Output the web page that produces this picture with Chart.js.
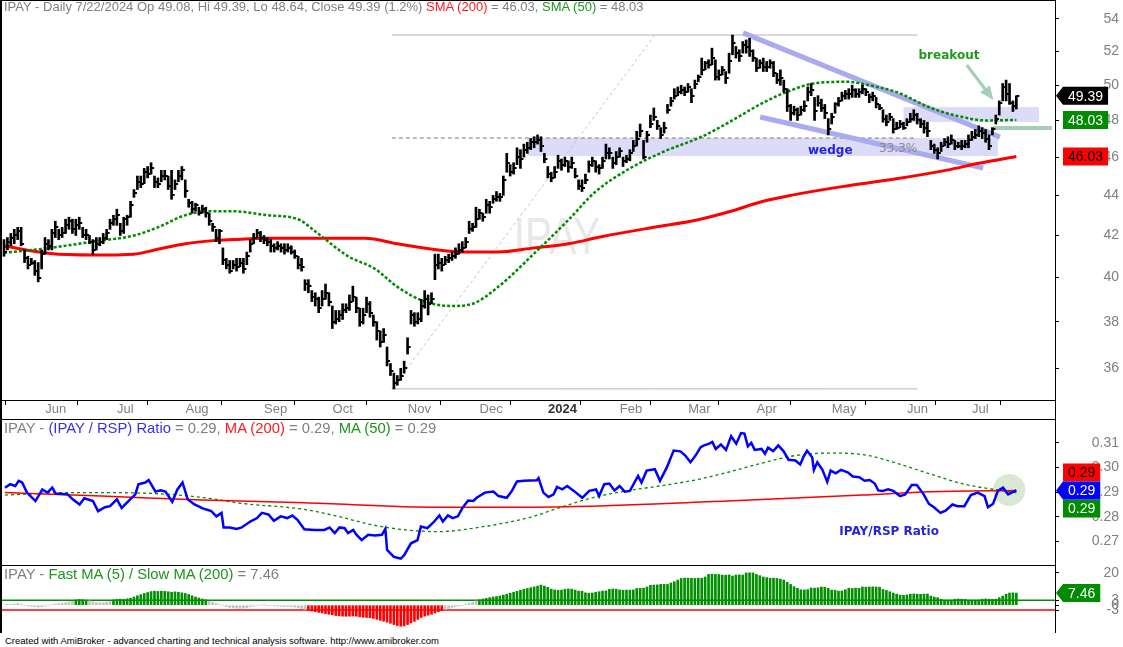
<!DOCTYPE html>
<html lang="en">
<head>
<meta charset="UTF-8">
<title>IPAY daily</title>
<script src="https://cdn.jsdelivr.net/npm/chart.js@4.4.1/dist/chart.umd.min.js"></script>
<style>
  body { margin: 0; background: #fff; }
  #wrap { position: relative; width: 1123px; height: 647px; overflow: hidden; background: #fff; font-family: "Liberation Sans", Arial, sans-serif; }
  #wrap canvas { position: absolute; left: 0; }
  .ln { position: absolute; background: #000; }
  .ttl { position: absolute; left: 4px; font-size: 13px; line-height: 15px; color: #808080; white-space: nowrap; }
  .big { font-size: 14.8px; line-height: 17px; }
  .red { color: #ff1a1a; }
  .grn { color: #1a961a; }
  .blu { color: #3a2ee6; }
  #foot { position: absolute; left: 5px; top: 635px; font-size: 9.5px; line-height: 12px; color: #000; white-space: nowrap; }
</style>
</head>
<body>
<div id="wrap">
  <canvas id="pricePane" width="1123" height="420" style="top:0"></canvas>
  <canvas id="ratioPane" width="1123" height="146" style="top:419px"></canvas>
  <canvas id="histPane" width="1123" height="68" style="top:565px"></canvas>
  <div class="ln" style="left:0;top:0;width:2px;height:633px"></div>
  <div class="ln" style="left:0;top:0;width:1056px;height:1px"></div>
  <div class="ln" style="left:0;top:419px;width:1056px;height:1px"></div>
  <div class="ln" style="left:0;top:565px;width:1056px;height:1px"></div>
  <div class="ln" style="left:1055px;top:0;width:1px;height:633px"></div>
  <div class="ttl" style="top:-1px">IPAY - Daily 7/22/2024 Op 49.08, Hi 49.39, Lo 48.64, Close 49.39 (1.2%) <span class="red">SMA (200)</span> = 46.03, <span class="grn">SMA (50)</span> = 48.03</div>
  <div class="ttl big" style="top:420px">IPAY - <span class="blu">(IPAY / RSP) Ratio</span> = 0.29, <span class="red">MA (200)</span> = 0.29, <span class="grn">MA (50)</span> = 0.29</div>
  <div class="ttl big" style="top:566px">IPAY - <span class="grn">Fast MA (5) / Slow MA (200)</span> = 7.46</div>
  <div id="foot">Created with AmiBroker - advanced charting and technical analysis software. http://www.amibroker.com</div>
</div>
<script>
// month ticks (bar index of first trading day) and their labels
var monthIdx = [11, 32, 52, 75, 95, 117, 138, 158, 179, 199, 219, 241, 263, 282];
var monthNames = ['Jun', 'Jul', 'Aug', 'Sep', 'Oct', 'Nov', 'Dec', '2024', 'Feb', 'Mar', 'Apr', 'May', 'Jun', 'Jul'];
var priceTicks = [36, 38, 40, 42, 44, 46, 48, 50, 52, 54];
var ratioTicks = [0.27, 0.28, 0.29, 0.30, 0.31];
var histTicks = [20, 3, 0, -3];

// daily bars, May 2023 .. 7/22/2024
var closes = [
  41.2,41.7,41.9,42.0,42.2,41.6,40.9,40.6,40.7,40.3,
  40.0,41.1,41.6,41.5,42.1,42.4,42.0,42.1,42.5,42.7,
  42.3,42.5,42.6,42.0,42.0,41.7,41.3,41.6,41.7,41.9,
  42.1,42.6,42.8,43.0,42.2,42.8,42.9,43.5,44.1,44.7,
  44.6,45.2,45.1,45.4,44.7,44.6,45.0,45.0,44.5,44.0,
  44.6,45.0,45.3,44.2,43.6,43.3,43.5,43.1,43.3,43.1,
  42.7,42.4,41.9,42.2,40.8,40.6,40.3,40.6,40.5,40.7,
  40.4,41.0,41.6,41.9,42.1,41.9,41.8,41.7,41.5,41.4,
  41.5,41.4,41.3,41.4,41.2,41.0,40.6,40.5,39.7,39.6,
  39.1,39.0,38.6,39.0,39.3,38.9,38.0,38.1,38.3,38.5,
  38.6,38.9,39.1,38.6,38.0,38.3,38.8,38.4,38.0,37.6,
  37.1,37.4,36.3,35.9,35.4,35.5,35.7,36.0,36.9,38.3,
  38.0,38.1,38.7,39.0,38.8,39.0,40.6,40.7,40.6,40.8,
  40.9,41.0,41.1,41.3,41.4,41.7,42.3,42.4,42.8,43.1,
  42.9,43.5,43.4,43.8,43.9,43.9,44.8,45.7,45.2,45.4,
  46.0,45.9,46.4,46.5,46.8,46.8,46.9,46.6,45.9,45.1,
  44.9,45.2,45.8,45.6,45.8,45.5,45.7,45.0,44.5,44.4,
  44.8,45.6,45.8,45.5,45.4,45.8,46.2,46.2,45.7,46.0,
  46.3,45.8,45.9,46.2,46.6,47.0,47.4,46.0,47.2,47.8,
  48.2,47.7,47.2,47.6,48.6,49.1,49.4,49.6,49.7,49.6,
  49.9,49.4,50.1,50.5,50.9,51.3,51.2,51.6,50.5,50.6,
  50.9,50.4,51.4,52.5,51.9,51.7,52.4,52.3,52.0,51.6,
  51.0,51.3,51.1,51.1,51.3,50.7,50.3,50.4,49.8,48.8,
  48.4,48.6,48.3,48.6,48.8,49.6,49.7,48.5,49.0,48.7,
  48.4,47.5,48.2,48.9,49.1,49.4,49.5,49.5,49.7,49.5,
  49.6,49.8,49.6,49.3,49.4,48.9,48.7,48.1,47.9,48.2,
  47.5,47.6,47.8,47.6,47.9,48.1,48.3,48.0,47.8,47.6,
  47.4,46.6,46.4,46.2,46.6,46.8,46.7,46.9,46.6,46.6,
  46.6,46.7,46.9,47.1,47.2,47.4,47.3,47.0,46.6,47.5,
  48.1,49.0,49.9,49.5,49.0,48.8,49.39
];
var highs = [
  41.8,41.9,42.1,42.3,42.4,42.4,41.3,41.0,40.9,40.8,
  40.7,41.3,41.9,41.8,42.3,42.7,42.3,42.4,42.8,42.9,
  42.8,42.8,42.9,42.4,42.3,42.0,41.8,41.9,41.9,42.1,
  42.3,42.8,43.0,43.3,42.6,42.9,43.0,43.7,44.3,45.0,
  45.0,45.4,45.5,45.7,45.0,44.9,45.3,45.3,45.0,45.3,
  44.8,45.3,45.5,44.8,43.8,43.7,43.6,43.4,43.5,43.4,
  43.1,42.6,42.3,42.3,41.4,40.9,40.8,40.8,40.9,40.9,
  40.9,41.2,41.8,42.1,42.3,42.2,42.0,41.9,41.8,41.6,
  41.7,41.6,41.6,41.6,41.5,41.3,41.0,40.9,39.9,39.9,
  39.4,39.3,39.1,39.4,39.7,39.3,38.7,38.5,38.5,38.8,
  38.8,39.2,39.6,39.1,38.6,38.6,39.1,38.9,38.3,38.0,
  37.6,37.7,36.9,36.2,35.8,35.7,36.0,36.3,37.3,38.5,
  38.4,38.4,39.0,39.4,39.2,39.3,41.1,41.1,40.9,41.0,
  41.1,41.2,41.4,41.6,41.7,41.9,42.7,42.6,43.4,43.3,
  43.1,43.8,43.7,44.0,44.2,44.1,45.0,46.2,45.6,45.7,
  46.5,46.4,46.7,46.8,47.0,47.1,47.2,47.1,46.2,45.5,
  45.2,45.5,46.1,45.9,46.0,45.8,46.0,45.4,44.8,44.8,
  45.1,45.8,46.0,45.8,45.6,46.0,46.7,46.5,46.0,46.3,
  46.5,46.0,46.1,46.4,46.9,47.4,47.8,46.9,47.4,48.3,
  48.7,48.0,47.6,47.9,48.9,49.3,49.8,49.9,50.0,49.9,
  50.1,49.8,50.3,50.6,51.6,51.4,51.5,52.2,51.5,50.9,
  51.1,50.8,51.9,53.0,52.3,52.1,52.6,52.7,52.8,52.1,
  51.6,51.5,51.6,51.4,51.5,51.4,50.7,50.9,50.3,49.8,
  48.9,48.8,48.7,48.8,49.1,49.9,50.1,49.3,49.4,49.2,
  48.9,48.1,48.4,49.0,49.3,49.6,49.7,49.8,50.0,49.8,
  49.8,50.0,49.8,49.5,49.6,49.3,48.9,48.6,48.3,48.4,
  48.1,47.9,48.0,47.9,48.1,48.4,48.6,48.4,48.1,48.0,
  47.9,46.9,46.7,46.5,46.8,47.0,47.1,47.2,46.9,46.8,
  46.9,46.9,47.2,47.4,47.5,47.7,47.6,47.5,47.2,47.6,
  48.3,49.1,50.1,50.3,50.1,49.1,49.39
];
var lows = [
  41.0,41.3,41.5,41.6,41.8,41.5,40.7,40.4,40.6,40.1,
  39.8,40.4,41.1,41.3,41.3,41.9,41.8,41.9,42.1,42.3,
  42.1,42.0,42.3,41.9,41.8,41.6,41.1,41.3,41.5,41.6,
  41.8,42.3,42.5,42.5,42.0,42.1,42.5,42.9,43.9,44.3,
  44.4,44.6,44.9,45.1,44.4,44.4,44.7,44.8,44.3,43.8,
  44.3,44.7,44.8,43.9,43.4,43.1,43.2,43.0,43.1,42.9,
  42.5,42.2,41.7,41.6,40.6,40.4,40.2,40.4,40.3,40.5,
  40.2,40.6,41.2,41.6,41.9,41.7,41.6,41.5,41.2,41.2,
  41.3,41.2,41.1,41.2,41.1,40.9,40.4,40.3,39.4,39.3,
  38.9,38.7,38.4,38.7,39.0,38.7,37.7,37.9,38.0,38.1,
  38.4,38.5,38.9,38.4,37.8,37.9,38.4,38.2,37.8,37.2,
  36.9,37.1,36.1,35.7,35.15,35.3,35.5,35.8,36.6,37.9,
  37.8,37.9,38.0,38.6,38.3,38.8,39.9,40.4,40.3,40.6,
  40.7,40.8,40.9,41.1,41.2,41.4,42.1,42.2,42.4,42.8,
  42.7,43.1,43.1,43.6,43.7,43.7,44.0,45.2,45.0,45.1,
  45.6,45.4,46.0,46.2,46.4,46.5,46.7,46.3,45.7,44.9,
  44.7,44.9,45.4,45.3,45.5,45.2,45.4,44.9,44.3,44.2,
  44.6,45.2,45.5,45.2,45.1,45.4,45.9,45.9,45.4,45.6,
  46.0,45.5,45.7,45.8,46.3,46.6,47.1,45.9,46.8,47.6,
  48.0,47.5,47.0,47.3,48.4,48.8,49.2,49.4,49.5,49.4,
  49.6,49.0,49.8,50.2,50.6,50.9,51.0,51.2,50.3,50.3,
  50.6,50.1,50.7,51.8,51.6,51.4,51.9,51.9,51.7,51.4,
  50.8,51.0,50.8,50.8,51.0,50.5,50.1,50.0,49.6,48.5,
  48.0,48.3,48.0,48.3,48.5,49.1,49.4,48.0,48.8,48.5,
  48.1,47.2,47.8,48.4,48.8,49.1,49.2,49.2,49.3,49.3,
  49.3,49.5,49.4,49.0,49.1,48.7,48.6,47.9,47.7,48.0,
  47.3,47.5,47.6,47.5,47.7,47.9,48.0,47.8,47.6,47.3,
  47.1,46.4,46.2,45.9,46.3,46.6,46.5,46.7,46.4,46.5,
  46.4,46.5,46.5,46.9,47.0,47.1,47.0,46.8,46.4,47.2,
  47.8,48.3,49.1,49.1,48.9,48.5,48.64
];

// moving averages: [bar index, value]
var sma50 = [
  [0,41.16],[13.5,41.4],[26,41.7],[38,42.0],[45,42.4],[53,43.0],[60,43.2],[67,43.2],[77,43.0],[86,42.8],
  [91,42.2],[100.6,41.0],[108.5,40.4],[115,39.57],[123,38.9],[131,38.7],[137,38.8],[144.5,39.57],[155,41.13],[165,42.76],
  [173,44.2],[183,45.4],[193,46.3],[204,47.1],[212,47.9],[222,49.0],[230,49.7],[236.6,50.1],[246.5,50.2],[253,50.0],
  [261,49.6],[271,48.7],[280,48.2],[287,48.0],[296,48.03]
];
var sma200 = [
  [0,41.49],[13.5,41.13],[26,41.06],[38,41.1],[44,41.3],[53,41.6],[61,41.75],[67,41.8],[77,41.86],[105.6,41.86],
  [115,41.6],[127,41.3],[135,41.2],[144.5,41.2],[155,41.4],[165,41.6],[175,41.95],[190,42.4],[202.6,42.76],[212,43.17],
  [222,43.7],[230,44.0],[245,44.45],[260,44.83],[275.7,45.31],[285,45.67],[296,46.03]
];

// IPAY / RSP ratio
var ratio = [
  [0.3,.2918],[1.8,.2932],[3.3,.2925],[4.3,.2946],[5.3,.2939],[6.7,.2898],[9.2,.2864],[11.2,.2911],[12.7,.2898],[14.1,.2918],
  [15.1,.2894],[18.6,.2891],[20.1,.2871],[22.1,.2850],[23.5,.2875],[26,.2864],[27.5,.2823],[29.5,.2839],[31,.2843],[33,.2871],
  [34.4,.2836],[36.9,.2871],[38.4,.2891],[39.3,.2932],[41.3,.2939],[42.3,.2949],[44.3,.2902],[45.8,.2907],[47.2,.2902],[49.2,.2861],
  [50.7,.2911],[52.2,.2939],[53.7,.2871],[55.7,.2850],[58.1,.2834],[60.6,.2823],[62.1,.2802],[63.6,.2816],[64.2,.2757],[66,.2757],
  [68,.2751],[69.5,.2757],[72,.2781],[74,.2795],[75.4,.2816],[77.4,.2809],[78.9,.2784],[80.9,.2802],[82.8,.2795],[84.3,.2805],
  [85.8,.2788],[87.8,.2750],[90.7,.2747],[93.7,.2747],[95.2,.2757],[96.7,.2734],[98.1,.2757],[99.6,.2754],[100.6,.2734],[102.1,.2747],
  [103.1,.2727],[104.6,.2706],[106.5,.2727],[108.5,.2724],[110.5,.2727],[111.5,.2751],[112,.2666],[114,.2638],[116,.2631],[117,.2645],
  [119,.2693],[120.9,.2706],[121.9,.2761],[123.8,.2754],[125.8,.2781],[127.3,.2806],[128.3,.2781],[129.8,.2806],[131.2,.2795],[132.7,.2802],
  [134.2,.2839],[135.7,.2866],[137.2,.2864],[138.2,.2877],[140.6,.2898],[143.1,.2902],[144.6,.2884],[147,.2877],[148.5,.2905],[150,.2943],
  [152,.2946],[155.8,.2948],[156.3,.2957],[157.7,.2898],[159.2,.2880],[160.7,.2891],[161.7,.2921],[163.2,.2911],[164.7,.2925],[166.6,.2905],
  [169.1,.2877],[171.1,.2905],[173.1,.2911],[174,.2884],[175.5,.2932],[177,.2935],[178.5,.2907],[180,.2925],[181.5,.2902],[183,.2905],
  [185.4,.2966],[186.4,.2939],[187.9,.2987],[190.3,.2993],[191.8,.2946],[193.8,.3000],[195.8,.3068],[197.8,.3065],[199.2,.3048],[200.7,.3021],
  [202.2,.3048],[203.7,.3082],[204.7,.3089],[206.2,.3096],[207.1,.3103],[208.1,.3075],[209.6,.3093],[211.1,.3071],[212.6,.3126],[214.1,.3096],
  [215.5,.3139],[216.5,.3137],[217.5,.3085],[218.5,.3099],[219.5,.3071],[221.5,.3075],[222.5,.3055],[223.4,.3080],[224.9,.3066],[226.4,.3089],
  [227.9,.3066],[229.4,.3031],[231.4,.3028],[232.8,.3012],[233.8,.3044],[234.8,.3068],[236.3,.3041],[236.8,.2990],[237.8,.3021],[239.3,.2990],
  [240.7,.2942],[241.7,.2987],[243.2,.2976],[244.7,.2990],[246.7,.2980],[248.2,.2963],[250.1,.2960],[251.6,.2946],[253.1,.2949],[254.6,.2935],
  [255.6,.2907],[257,.2905],[258.5,.2911],[260,.2905],[262,.2884],[263.5,.2891],[265.4,.2929],[266.9,.2929],[268.9,.2891],[270.4,.2853],
  [271.9,.2839],[273.8,.2816],[275.3,.2825],[277.3,.2850],[278.8,.2843],[280.8,.2843],[282.7,.2888],[284.7,.2898],[286.7,.2884],[287.7,.2839],
  [289.2,.2853],[290.6,.2905],[292.1,.2918],[293.6,.2891],[294.6,.2898],[296,.2907]
];
var ratioMa200 = [
  [0.3,.2898],[28.5,.2884],[58,.2868],[87.8,.2857],[127.3,.2839],[153.8,.2839],[211.6,.2864],[251,.2888],[270.9,.2902],[296,.2907]
];
var ratioMa50 = [
  [0.3,.2888],[18.6,.2898],[28.5,.2898],[48.2,.2891],[62,.2871],[68,.2857],[87.8,.2830],[97.6,.2802],[107.5,.2768],[117.4,.2747],
  [127.3,.2740],[137.2,.2754],[153.8,.2798],[162.2,.2836],[172,.2877],[182,.2905],[191.8,.2925],[201.7,.2948],[211.6,.2980],[221.5,.3017],
  [231.4,.3048],[241.2,.3058],[251.1,.3052],[261,.3017],[270.9,.2973],[280.8,.2932],[296,.2898]
];

// fast MA(5) vs slow MA(200), percent
var hist = [
  0.3,0.5,0.6,0.8,1.0,0.6,-0.2,-0.6,-0.8,-1.0,
  -1.2,-0.9,-0.6,-0.3,0.2,0.6,0.9,1.2,1.6,2.0,
  2.3,3.2,3.5,3.4,3.1,2.6,2.0,1.6,1.5,1.6,
  1.9,2.4,3.2,3.6,3.7,3.6,3.9,4.3,5.0,5.8,
  6.5,7.2,7.8,8.4,8.6,8.5,8.6,8.5,8.3,8.0,
  8.2,8.0,7.6,7.2,6.6,5.8,5.0,4.4,3.8,3.3,
  2.4,1.8,1.0,0.4,-0.3,-0.9,-1.4,-1.6,-1.8,-1.9,
  -1.8,-1.5,-1.0,-0.6,-0.3,0.0,0.1,-0.1,-0.3,-0.5,
  -0.6,-0.7,-0.8,-0.9,-1.0,-1.2,-1.5,-2.0,-2.6,-3.2,
  -3.6,-4.0,-4.5,-4.8,-5.2,-5.6,-6.0,-6.4,-6.6,-6.8,
  -6.9,-6.8,-6.7,-6.8,-7.2,-7.5,-7.6,-7.8,-8.2,-8.8,
  -9.4,-9.9,-10.5,-11.2,-12.0,-12.6,-13.0,-12.8,-12.0,-11.0,
  -10.0,-8.8,-7.6,-6.8,-6.2,-5.6,-4.8,-4.0,-3.4,-2.6,
  -2.0,-1.5,-1.0,-0.6,-0.2,0.5,1.2,1.9,2.6,3.3,
  3.8,4.2,4.6,5.0,5.3,5.7,6.2,6.8,7.4,8.0,
  8.6,9.2,9.8,10.3,10.8,11.3,11.8,12.4,11.8,11.0,
  9.9,9.4,9.2,9.3,9.8,10.0,9.9,9.3,8.7,8.6,
  7.6,7.4,7.5,8.0,8.3,8.7,8.8,9.8,10.0,9.9,
  9.4,9.2,9.3,9.3,9.4,10.3,10.4,10.5,11.2,12.3,
  12.4,12.5,12.8,12.9,12.8,13.7,14.5,15.5,16.5,16.7,
  16.6,16.6,16.5,16.7,16.6,17.4,19.0,19.1,19.0,18.9,
  18.6,18.5,18.7,18.0,18.6,18.7,18.6,19.9,20.0,19.9,
  19.0,18.2,17.4,17.0,16.6,16.7,16.5,16.1,15.5,14.1,
  12.8,11.4,10.4,9.5,9.4,9.6,10.6,10.5,10.7,11.2,
  11.1,10.4,9.3,9.2,8.7,8.8,9.5,10.4,10.3,10.5,
  10.4,11.2,11.1,11.2,11.3,11.2,11.1,9.7,9.1,8.3,
  7.5,6.8,6.2,6.1,6.3,6.8,6.9,6.8,6.7,6.8,
  6.9,5.6,5.0,4.6,3.7,3.1,3.2,3.1,3.7,3.8,
  3.7,3.6,3.1,3.2,3.1,3.2,3.7,3.8,3.7,3.6,
  3.7,4.6,5.6,6.8,7.5,7.6,7.46
];
var histBands = [3, -3];

// drawings on the price pane: [bar index, price]
var zones = [[153, 290.6, 46.06, 47.03], [263, 302.6, 47.92, 48.75]];
var fibSpan = [113.4, 267];
var fibLevels = [35.15, 47.03, 53.0];
var trendLine = [[113.4, 35.15], [190.3, 53.0]];
var wedgeTop = [[216.1, 53.13], [291.2, 47.08]];
var wedgeBottom = [[221.1, 48.19], [286.3, 45.42]];
var arrowLine = [[281.5, 51.19], [289.3, 49.15]];
var breakoutLine = [[289.2, 47.58], [306.4, 47.58]];
var watermarkAt = [161.7, 41.8];
var notes = [['breakout', 276.3, 51.73], ['wedge', 241.6, 46.33], ['33.3%', 267, 46.44]];
var ratioMark = [293.9, 0.2909];
var ratioNote = ['IPAY/RSP Ratio', 258.8, 0.2738];

Chart.defaults.font.family = '"Liberation Sans", Arial, sans-serif';
Chart.defaults.animation = false;
Chart.defaults.plugins.legend.display = false;
Chart.defaults.plugins.tooltip.enabled = false;

var xMin = -1.17, xMax = 307.3;
var GREEN = '#008c00';

function pts(arr) {
  return arr.map(function(p) { return { x: p[0], y: p[1] }; });
}

function rightAxis(extra) {
  var axis = {
    position: 'right',
    grid: { drawOnChartArea: false, drawTicks: true, tickLength: 4, color: '#000' },
    border: { display: true, color: '#000' },
    ticks: { color: '#808080', font: { size: 14 }, crossAlign: 'far', autoSkip: false },
    afterFit: function(s) { s.width = 64; s.paddingTop = 0; s.paddingBottom = 0; }
  };
  return Object.assign(axis, extra);
}

function valueBox(ctx, y, text, bg, fg, arrow) {
  ctx.save();
  ctx.font = '14px "Liberation Sans", Arial, sans-serif';
  var w = ctx.measureText(text).width + 10;
  var x0 = 1063, h = 18;
  ctx.fillStyle = bg;
  ctx.beginPath();
  if (arrow) {
    ctx.moveTo(1056, y);
    ctx.lineTo(x0, y - h / 2);
    ctx.lineTo(x0 + w, y - h / 2);
    ctx.lineTo(x0 + w, y + h / 2);
    ctx.lineTo(x0, y + h / 2);
    ctx.closePath();
  } else {
    ctx.rect(x0, y - h / 2, w, h);
  }
  ctx.fill();
  ctx.fillStyle = fg;
  ctx.textAlign = 'center';
  ctx.textBaseline = 'middle';
  ctx.fillText(text, x0 + w / 2, y + 1);
  ctx.restore();
}

function segment(ctx, X, Y, a, b) {
  ctx.beginPath();
  ctx.moveTo(X(a[0]), Y(a[1]));
  ctx.lineTo(X(b[0]), Y(b[1]));
  ctx.stroke();
}

// close tick drawn to the right of each bar
var tickImg = document.createElement('canvas');
tickImg.width = 8; tickImg.height = 2;
var tg = tickImg.getContext('2d');
tg.fillStyle = '#000';
tg.fillRect(4, 0, 3, 2);

var priceDecor = {
  id: 'priceDecor',
  beforeDatasetsDraw: function(chart) {
    var ctx = chart.ctx, a = chart.chartArea;
    var X = function(v) { return chart.scales.x.getPixelForValue(v); };
    var Y = function(v) { return chart.scales.y.getPixelForValue(v); };
    ctx.save();
    ctx.beginPath(); ctx.rect(a.left, a.top, a.right - a.left, a.bottom - a.top); ctx.clip();

    // watermark
    ctx.save();
    ctx.translate(X(watermarkAt[0]), Y(watermarkAt[1]));
    ctx.scale(0.78, 1);
    ctx.font = '52px "Liberation Sans", Arial, sans-serif';
    ctx.fillStyle = '#e8e8e8';
    ctx.textAlign = 'center'; ctx.textBaseline = 'middle';
    ctx.fillText('IPAY', 0, 0);
    ctx.restore();

    ctx.fillStyle = '#dcdcf8';
    zones.forEach(function(z) {
      ctx.fillRect(X(z[0]), Y(z[3]), X(z[1]) - X(z[0]), Y(z[2]) - Y(z[3]));
    });

    ctx.lineWidth = 1;
    ctx.strokeStyle = '#b4b4b4';
    segment(ctx, X, Y, [fibSpan[0], fibLevels[0]], [fibSpan[1], fibLevels[0]]);
    segment(ctx, X, Y, [fibSpan[0], fibLevels[2]], [fibSpan[1], fibLevels[2]]);
    ctx.setLineDash([4, 3]);
    ctx.strokeStyle = '#7a7a7a';
    segment(ctx, X, Y, [fibSpan[0], fibLevels[1]], [fibSpan[1], fibLevels[1]]);
    ctx.setLineDash([3, 3]);
    ctx.strokeStyle = '#c4c4c4';
    segment(ctx, X, Y, trendLine[0], trendLine[1]);
    ctx.setLineDash([]);

    ctx.strokeStyle = '#aaaaee';
    ctx.lineWidth = 5;
    segment(ctx, X, Y, wedgeTop[0], wedgeTop[1]);
    segment(ctx, X, Y, wedgeBottom[0], wedgeBottom[1]);

    ctx.strokeStyle = '#a3cfb4';
    ctx.fillStyle = '#a3cfb4';
    ctx.lineWidth = 4;
    segment(ctx, X, Y, breakoutLine[0], breakoutLine[1]);
    var x1 = X(arrowLine[0][0]), y1 = Y(arrowLine[0][1]);
    var x2 = X(arrowLine[1][0]), y2 = Y(arrowLine[1][1]);
    var ang = Math.atan2(y2 - y1, x2 - x1);
    ctx.lineWidth = 3;
    ctx.beginPath();
    ctx.moveTo(x1, y1);
    ctx.lineTo(x2 - 12 * Math.cos(ang), y2 - 12 * Math.sin(ang));
    ctx.stroke();
    ctx.beginPath();
    ctx.moveTo(x2, y2);
    ctx.lineTo(x2 - 14 * Math.cos(ang) + 6 * Math.sin(ang), y2 - 14 * Math.sin(ang) - 6 * Math.cos(ang));
    ctx.lineTo(x2 - 14 * Math.cos(ang) - 6 * Math.sin(ang), y2 - 14 * Math.sin(ang) + 6 * Math.cos(ang));
    ctx.closePath();
    ctx.fill();
    ctx.restore();
  },
  afterDatasetsDraw: function(chart) {
    var ctx = chart.ctx;
    var X = function(v) { return chart.scales.x.getPixelForValue(v); };
    var Y = function(v) { return chart.scales.y.getPixelForValue(v); };
    ctx.save();
    ctx.textBaseline = 'middle';
    ctx.font = 'bold 12px "DejaVu Sans", sans-serif';
    ctx.textAlign = 'center';
    ctx.fillStyle = '#1f9a1f';
    ctx.fillText(notes[0][0], X(notes[0][1]), Y(notes[0][2]));
    ctx.fillStyle = '#2323e0';
    ctx.fillText(notes[1][0], X(notes[1][1]), Y(notes[1][2]));
    ctx.font = '12px "DejaVu Sans", sans-serif';
    ctx.textAlign = 'right';
    ctx.fillStyle = '#8a8a8a';
    ctx.fillText(notes[2][0], X(notes[2][1]), Y(notes[2][2]));
    ctx.restore();
  },
  afterDraw: function(chart) {
    var ctx = chart.ctx;
    var Y = function(v) { return chart.scales.y.getPixelForValue(v); };
    var c = closes[closes.length - 1];
    var s50 = sma50[sma50.length - 1][1];
    var s200 = sma200[sma200.length - 1][1];
    valueBox(ctx, Y(s200), s200.toFixed(2), '#ff0000', '#000', false);
    valueBox(ctx, Y(s50), s50.toFixed(2), GREEN, '#fff', false);
    valueBox(ctx, Y(c), c.toFixed(2), '#000', '#fff', true);
  }
};

new Chart(document.getElementById('pricePane'), {
  type: 'bar',
  data: {
    datasets: [
      { type: 'bar', data: closes.map(function(c, i) { return { x: i, y: [lows[i], highs[i]] }; }),
        backgroundColor: '#000', barThickness: 2, order: 0 },
      { type: 'line', data: closes.map(function(c, i) { return { x: i, y: c }; }),
        showLine: false, pointStyle: tickImg, pointRadius: 2, order: 1 },
      { type: 'line', data: pts(sma50), borderColor: GREEN, borderWidth: 2.5, borderDash: [3, 2],
        pointRadius: 0, cubicInterpolationMode: 'monotone', order: 2 },
      { type: 'line', data: pts(sma200), borderColor: '#ff0000', borderWidth: 3,
        pointRadius: 0, cubicInterpolationMode: 'monotone', order: 3 }
    ]
  },
  options: {
    responsive: false,
    layout: { padding: { right: 4 }, autoPadding: false },
    scales: {
      x: {
        type: 'linear', min: xMin, max: xMax, offset: false,
        grid: { display: true, drawOnChartArea: false, drawTicks: true, tickLength: 5, color: '#000' },
        border: { display: true, color: '#000' },
        ticks: {
          autoSkip: false, maxRotation: 0, align: 'start', padding: -3,
          callback: function(v, k) { return ' ' + monthNames[k]; },
          color: function(c) { return c.tick && c.tick.value === 158 ? '#333' : '#808080'; },
          font: function(c) { return { size: 13, weight: c.tick && c.tick.value === 158 ? 'bold' : 'normal' }; }
        },
        afterBuildTicks: function(s) { s.ticks = monthIdx.map(function(v) { return { value: v }; }); },
        afterFit: function(s) { s.height = 20; s.paddingLeft = 0; s.paddingRight = 0; }
      },
      y: rightAxis({
        type: 'logarithmic', min: 34.70, max: 55.20,
        afterBuildTicks: function(s) { s.ticks = priceTicks.map(function(v) { return { value: v }; }); }
      })
    }
  },
  plugins: [priceDecor]
});
Chart.getChart('pricePane').options.scales.y.ticks.callback = function(v) { return String(v); };
Chart.getChart('pricePane').update();

var ratioDecor = {
  id: 'ratioDecor',
  beforeDatasetsDraw: function(chart) {
    var ctx = chart.ctx;
    var X = function(v) { return chart.scales.x.getPixelForValue(v); };
    var Y = function(v) { return chart.scales.y.getPixelForValue(v); };
    ctx.save();
    ctx.fillStyle = '#d9e7d5';
    ctx.beginPath();
    ctx.arc(X(ratioMark[0]), Y(ratioMark[1]), 16, 0, Math.PI * 2);
    ctx.fill();
    ctx.font = 'bold 12px "DejaVu Sans", sans-serif';
    ctx.fillStyle = '#2323e0';
    ctx.textAlign = 'center'; ctx.textBaseline = 'middle';
    ctx.fillText(ratioNote[0], X(ratioNote[1]), Y(ratioNote[2]));
    ctx.restore();
  },
  afterDraw: function(chart) {
    var ctx = chart.ctx;
    var Y = function(v) { return chart.scales.y.getPixelForValue(v); };
    var r = ratio[ratio.length - 1][1];
    var yb = Y(r);
    valueBox(ctx, yb - 18, ratioMa200[ratioMa200.length - 1][1].toFixed(2), '#ff0000', '#000', false);
    valueBox(ctx, yb + 18, ratioMa50[ratioMa50.length - 1][1].toFixed(2), GREEN, '#fff', false);
    valueBox(ctx, yb, r.toFixed(2), '#0000ff', '#fff', true);
  }
};

new Chart(document.getElementById('ratioPane'), {
  type: 'line',
  data: {
    datasets: [
      { data: pts(ratio), borderColor: '#0000ff', borderWidth: 2.5, pointRadius: 0, order: 0 },
      { data: pts(ratioMa200), borderColor: '#ff0000', borderWidth: 1.5, pointRadius: 0,
        cubicInterpolationMode: 'monotone', order: 1 },
      { data: pts(ratioMa50), borderColor: GREEN, borderWidth: 1.3, borderDash: [3, 3], pointRadius: 0,
        cubicInterpolationMode: 'monotone', order: 2 }
    ]
  },
  options: {
    responsive: false,
    layout: { padding: { right: 4 }, autoPadding: false },
    scales: {
      x: { type: 'linear', min: xMin, max: xMax, display: false },
      y: rightAxis({
        min: 0.2605, max: 0.3196,
        afterBuildTicks: function(s) { s.ticks = ratioTicks.map(function(v) { return { value: v }; }); }
      })
    }
  },
  plugins: [ratioDecor]
});
Chart.getChart('ratioPane').options.scales.y.ticks.callback = function(v) { return v.toFixed(2); };
Chart.getChart('ratioPane').update();

var histDecor = {
  id: 'histDecor',
  beforeDatasetsDraw: function(chart) {
    var ctx = chart.ctx, a = chart.chartArea;
    var Y = function(v) { return chart.scales.y.getPixelForValue(v); };
    ctx.save();
    ctx.lineWidth = 1.5;
    ctx.strokeStyle = GREEN;
    ctx.beginPath(); ctx.moveTo(a.left, Y(histBands[0])); ctx.lineTo(a.right, Y(histBands[0])); ctx.stroke();
    ctx.strokeStyle = '#ff0000';
    ctx.beginPath(); ctx.moveTo(a.left, Y(histBands[1])); ctx.lineTo(a.right, Y(histBands[1])); ctx.stroke();
    ctx.restore();
  },
  afterDraw: function(chart) {
    var v = hist[hist.length - 1];
    valueBox(chart.ctx, chart.scales.y.getPixelForValue(v), v.toFixed(2), GREEN, '#fff', true);
  }
};

new Chart(document.getElementById('histPane'), {
  type: 'bar',
  data: {
    datasets: [{
      data: hist.map(function(v, i) { return { x: i, y: v }; }),
      backgroundColor: function(c) {
        var v = hist[c.dataIndex];
        return v >= histBands[0] ? '#009000' : (v <= histBands[1] ? '#ff0000' : '#c4c4c4');
      },
      barThickness: 2
    }]
  },
  options: {
    responsive: false,
    layout: { padding: { right: 4 }, autoPadding: false },
    scales: {
      x: { type: 'linear', min: xMin, max: xMax, display: false, offset: false },
      y: rightAxis({
        min: -17.2, max: 24.8,
        afterBuildTicks: function(s) { s.ticks = histTicks.map(function(v) { return { value: v }; }); }
      })
    }
  },
  plugins: [histDecor]
});
Chart.getChart('histPane').options.scales.y.ticks.callback = function(v) { return String(v); };
Chart.getChart('histPane').update();
</script>
</body>
</html>
